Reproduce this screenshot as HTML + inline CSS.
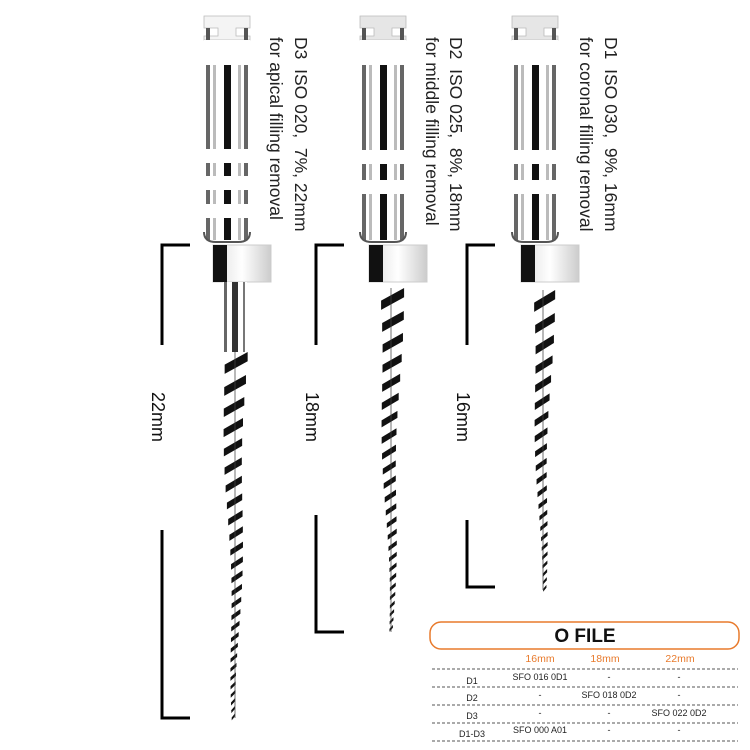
<!DOCTYPE html>
<html><head><meta charset="utf-8"><style>
body{margin:0;background:#fff;width:750px;height:750px;overflow:hidden;font-family:"Liberation Sans",sans-serif}
svg{position:absolute;left:0;top:0}
</style></head><body>
<svg id="s" width="750" height="750" viewBox="0 0 750 750" font-family="Liberation Sans, sans-serif">
<defs>
<linearGradient id="st" x1="0" x2="1" y1="0" y2="0">
<stop offset="0" stop-color="#ddd"/><stop offset="0.5" stop-color="#fff"/><stop offset="1" stop-color="#ccc"/></linearGradient>
</defs>
<g id="inst"></g>
<g stroke="#000" stroke-width="3" fill="none">
<polyline points="190,245 162,245 162,345"/><polyline points="162,530 162,718 190,718"/>
<polyline points="344,245 316,245 316,345"/><polyline points="316,515 316,632 344,632"/>
<polyline points="495,245 467,245 467,345"/><polyline points="467,520 467,587 495,587"/>
</g>
<g font-size="18" fill="#111">
<text transform="translate(152,392) rotate(90)">22mm</text>
<text transform="translate(306,392) rotate(90)">18mm</text>
<text transform="translate(457,392) rotate(90)">16mm</text>
</g>
<g font-size="17.5" fill="#222">
<text transform="translate(295,37) rotate(90)" xml:space="preserve">D3  ISO 020,  7%, 22mm</text>
<text transform="translate(270,37) rotate(90)">for apical filling removal</text>
<text transform="translate(450,37) rotate(90)" xml:space="preserve">D2  ISO 025,  8%, 18mm</text>
<text transform="translate(426,37) rotate(90)">for middle filling removal</text>
<text transform="translate(605,37) rotate(90)" xml:space="preserve">D1  ISO 030,  9%, 16mm</text>
<text transform="translate(580,37) rotate(90)">for coronal filling removal</text>
</g>
<rect x="430" y="622" width="309" height="27" rx="11" fill="#fff" stroke="#e87a2c" stroke-width="1.5"/>
<text x="585" y="642" text-anchor="middle" font-size="19" font-weight="bold" fill="#111">O FILE</text>
<g font-size="10.5" fill="#e87a2c" text-anchor="middle">
<text x="540" y="662">16mm</text><text x="605" y="662">18mm</text><text x="680" y="662">22mm</text></g>
<g stroke="#555" stroke-dasharray="3,2" stroke-width="1">
<line x1="432" y1="669" x2="738" y2="669"/><line x1="432" y1="687" x2="738" y2="687"/>
<line x1="432" y1="705" x2="738" y2="705"/><line x1="432" y1="723" x2="738" y2="723"/>
<line x1="432" y1="741" x2="738" y2="741"/></g>
<g font-size="9" fill="#222" text-anchor="middle">
<text x="472" y="684">D1</text><text x="540" y="680">SFO 016 0D1</text><text x="609" y="680">-</text><text x="679" y="680">-</text>
<text x="472" y="701">D2</text><text x="540" y="698">-</text><text x="609" y="698">SFO 018 0D2</text><text x="679" y="698">-</text>
<text x="472" y="719">D3</text><text x="540" y="716">-</text><text x="609" y="716">-</text><text x="679" y="716">SFO 022 0D2</text>
<text x="472" y="737">D1-D3</text><text x="540" y="733">SFO 000 A01</text><text x="609" y="733">-</text><text x="679" y="733">-</text>
</g>
</svg>
<script>
var g=document.getElementById('inst'),h='';
function inst(cx,rings,sp0,tipY,w0,hc){
 var L=cx-23,R=cx+23;
 h+='<path d="M'+(L)+',16 h46 v12 h-14 v8 h14 v4 h-46 v-4 h14 v-8 h-14z" fill="'+hc+'" stroke="#bbb" stroke-width="0.8"/>';
 h+='<rect x="'+(L+2)+'" y="28" width="4" height="12" fill="#555"/><rect x="'+(R-6)+'" y="28" width="4" height="12" fill="#555"/>';
 h+='<rect x="'+L+'" y="40" width="46" height="202" fill="#fff"/>';
 h+='<rect x="'+(L+2)+'" y="65" width="4" height="175" fill="#666"/><rect x="'+(cx-3)+'" y="65" width="7" height="175" fill="#111"/><rect x="'+(R-6)+'" y="65" width="4" height="175" fill="#666"/>';
 h+='<rect x="'+(L+9)+'" y="65" width="3" height="175" fill="#bbb"/><rect x="'+(R-12)+'" y="65" width="3" height="175" fill="#bbb"/>';
 rings.forEach(function(r){h+='<rect x="'+(L-1)+'" y="'+r+'" width="48" height="'+14+'" fill="#fff"/>';});
 h+='<rect x="'+L+'" y="40" width="46" height="25" fill="#fff"/>';
 h+='<path d="M'+L+',232 q0,10 12,10 h22 q12,0 12,-10" fill="none" stroke="#555" stroke-width="2"/>';
 h+='<rect x="'+(cx-14)+'" y="245" width="58" height="37" fill="url(#st)" stroke="#ccc"/>';
 h+='<rect x="'+(cx-14)+'" y="245" width="14" height="37" fill="#111"/>';
 var sx=cx+8;
 if(sp0>290){h+='<rect x="'+(sx-12)+'" y="282" width="24" height="'+(sp0-282)+'" fill="#fff"/><rect x="'+(sx-11)+'" y="282" width="3" height="'+(sp0-282)+'" fill="#666"/><rect x="'+(sx-3)+'" y="282" width="6" height="'+(sp0-282)+'" fill="#333"/><rect x="'+(sx+8)+'" y="282" width="2" height="'+(sp0-282)+'" fill="#777"/>';}
 var y=sp0,tot=tipY-sp0;
 while(y<tipY){var t=(y-sp0)/tot,w=w0*(1-t)+3,p=16*(1-t)+7;
  var ox=Math.sin(y/40)*2;
  h+='<polygon points="'+(sx-w/2+ox)+','+(y+p*0.55)+' '+(sx+w/2+ox)+','+(y)+' '+(sx+w/2+ox)+','+(y+p*0.4)+' '+(sx-w/2+ox)+','+(y+p*0.95)+'" fill="#111"/>';
  y+=p;}
 h+='<line x1="'+sx+'" y1="'+sp0+'" x2="'+sx+'" y2="'+tipY+'" stroke="#444" stroke-width="1.5" opacity="0.5"/>';
}
inst(227,[149,176,204],352,718,20,'#f4f4f4');
inst(383,[150,180],288,632,20,'#e6e6e6');
inst(535,[150,180],290,590,18,'#e6e6e6');
g.innerHTML=h;
</script>
</body></html>
